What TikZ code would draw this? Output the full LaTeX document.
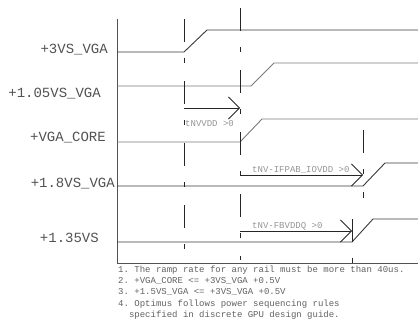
\documentclass[tikz,border=0pt]{standalone}
\usepackage{fontspec}
\setmonofont{Liberation Mono}
\usetikzlibrary{arrows.meta}
\begin{document}
\begin{tikzpicture}[x=1pt,y=-1pt,
  rail/.style={line width=0.9pt, draw=black!78},
  railgray/.style={line width=0.9pt, draw=black!52},
  axis/.style={line width=0.9pt, draw=black!68},
  seq/.style={line width=0.9pt, draw=black!85, dash pattern=on 23pt off 16pt on 5pt off 18pt},
  timing/.style={line width=0.8pt, draw=black!85, -{Straight Barb[length=11pt,width=22pt,line width=0.8pt]}},
  railname/.style={font=\ttfamily\fontsize{14}{14}\selectfont, text=black!68, inner sep=0pt, anchor=base east},
  tlabel/.style={font=\ttfamily\fontsize{9}{9}\selectfont, text=black!42, inner sep=0pt, anchor=base west},
  note/.style={font=\ttfamily\fontsize{9}{9}\selectfont, text=black!62, inner sep=0pt, anchor=base west}
]
\useasboundingbox (0,0) rectangle (418,321);

% axis and frame
\coordinate (axT) at (117,19);
\coordinate (axB) at (117,263);
\coordinate (frR) at (418,263);
\draw[axis] (axT) -- (axB) -- (frR);

% rails
\coordinate (a0) at (117,52);  \coordinate (a1) at (184,52);  \coordinate (a2) at (207,30);  \coordinate (a3) at (418,30);
\coordinate (b0) at (117,86);  \coordinate (b1) at (251,86);  \coordinate (b2) at (274,63);  \coordinate (b3) at (418,63);
\coordinate (c0) at (117,142); \coordinate (c1) at (240,142); \coordinate (c2) at (262,119); \coordinate (c3) at (418,119);
\coordinate (d0) at (117,186); \coordinate (d1) at (363,186); \coordinate (d2) at (385,163); \coordinate (d3) at (418,163);
\coordinate (e0) at (117,242); \coordinate (e1) at (352,242); \coordinate (e2) at (373,219); \coordinate (e3) at (418,219);
\draw[rail] (a0) -- (a1) -- (a2) -- (a3);
\draw[railgray] (b0) -- (b1) -- (b2) -- (b3);
\draw[railgray] (c0) -- (c1) -- (c2) -- (c3);
\draw[rail] (d0) -- (d1) -- (d2) -- (d3);
\draw[rail] (e0) -- (e1) -- (e2) -- (e3);

% sequencing lines
\coordinate (s1T) at (184,19);  \coordinate (s1B) at (184,250);
\coordinate (s2T) at (240,8);   \coordinate (s2B) at (240,260);
\coordinate (s3T) at (363,130); \coordinate (s3B) at (363,198);
\coordinate (s4T) at (352,219); \coordinate (s4B) at (352,263);
\draw[seq] (s1T) -- (s1B);
\draw[seq] (s2T) -- (s2B);
\draw[seq] (s3T) -- (s3B);
\draw[seq] (s4T) -- (s4B);

% timing arrows
\coordinate (t1a) at (184,108); \coordinate (t1b) at (240,108);
\coordinate (t2a) at (240,175); \coordinate (t2b) at (363,175);
\coordinate (t3a) at (240,231); \coordinate (t3b) at (352,231);
\draw[timing] (t1a) -- (t1b);
\draw[timing] (t2a) -- (t2b);
\draw[timing] (t3a) -- (t3b);
\node[tlabel] (l1) at (185,126) {tNVVDD >0};
\node[tlabel] (l2) at (252,172) {tNV-IFPAB\_IOVDD >0};
\node[tlabel] (l3) at (252,228) {tNV-FBVDDQ >0};

% rail names
\node[railname] (n1) at (108,53.5) {+3VS\_VGA};
\node[railname] (n2) at (101,97) {+1.05VS\_VGA};
\node[railname] (n3) at (106,141) {+VGA\_CORE};
\node[railname] (n4) at (115,187) {+1.8VS\_VGA};
\node[railname] (n5) at (99,242) {+1.35VS};

% notes
\node[note] (m1) at (118,272.5) {1. The ramp rate for any rail must be more than 40us.};
\node[note] (m2) at (118,283.7) {2. +VGA\_CORE <= +3VS\_VGA +0.5V};
\node[note] (m3) at (118,294.9) {3. +1.5VS\_VGA <= +3VS\_VGA +0.5V};
\node[note] (m4) at (118,306.1) {4. Optimus follows power sequencing rules};
\node[note] (m5) at (118,317.3) {\hphantom{xx}specified in discrete GPU design guide.};
\end{tikzpicture}
\end{document}
